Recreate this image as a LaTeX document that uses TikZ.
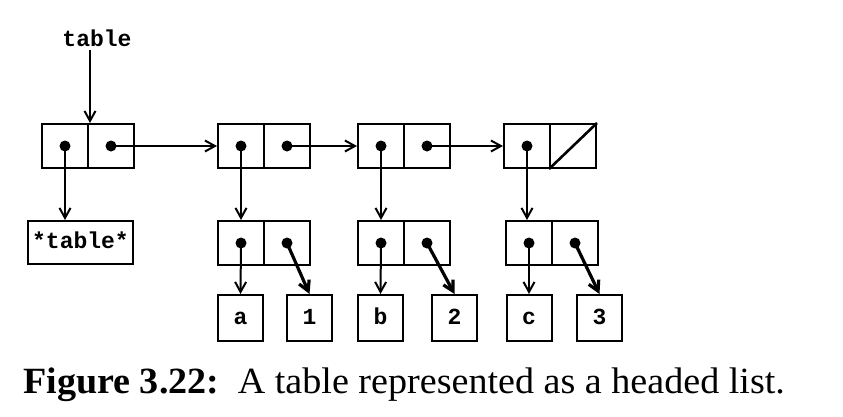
\documentclass[tikz,border=0pt]{standalone}
\usepackage{fontspec}
\setmainfont[FakeStretch=1.03]{Liberation Serif}
\newfontfamily\codefont{Liberation Mono}
\usetikzlibrary{arrows.meta}

\begin{document}
\begin{tikzpicture}[x=1pt,y=-1pt,
    code/.style={font=\codefont\bfseries\fontsize{23}{23}\selectfont},
    cell/.style={draw,line width=2pt,minimum width=46pt,minimum height=44pt,inner sep=0pt},
    leaf/.style={draw,line width=2pt,minimum width=45pt,minimum height=46pt,inner sep=0pt,
      text height=12pt,text depth=0pt,code},
    ptr/.style={line width=2pt,-{Straight Barb[length=10pt,width=11pt]}},
    bold ptr/.style={ptr,line width=3.2pt}]
  \useasboundingbox (0,0) rectangle (843,416);

  % Header cell and its name
  \node[code] (name) at (97,38) {table};
  \node[cell] (h0a) at (65,146) {};
  \node[cell] (h0b) at (111,146) {};
  \node[leaf,minimum width=105pt,minimum height=43pt] (tab) at (80.5,242.5) {*table*};

  % Spine of the list
  \node[cell] (h1a) at (241,146) {};
  \node[cell] (h1b) at (287,146) {};
  \node[cell] (h2a) at (381,146) {};
  \node[cell] (h2b) at (427,146) {};
  \node[cell] (h3a) at (527,146) {};
  \node[cell] (h3b) at (573,146) {};

  % Entries (key . value)
  \node[cell] (e1a) at (241,243) {};
  \node[cell] (e1b) at (287,243) {};
  \node[cell] (e2a) at (381,243) {};
  \node[cell] (e2b) at (427,243) {};
  \node[cell] (e3a) at (529,243) {};
  \node[cell] (e3b) at (575,243) {};

  % Keys and values
  \node[leaf] (ka) at (240.5,318) {a};
  \node[leaf] (v1) at (309.5,318) {1};
  \node[leaf] (kb) at (380.5,318) {b};
  \node[leaf] (v2) at (454.5,318) {2};
  \node[leaf] (kc) at (529,318) {c};
  \node[leaf] (v3) at (599.5,318) {3};

  % Pointers
  \draw[ptr] ([xshift=-7pt]name.south) -- ([xshift=-7pt]name.south |- h0a.north);
  \draw[ptr] (h0a.center) -- (h0a.center |- tab.north);
  \draw[ptr] (h0b.center) -- (h1a.west);
  \draw[ptr] (h1b.center) -- (h2a.west);
  \draw[ptr] (h2b.center) -- (h3a.west);
  \draw[ptr] (h1a.center) -- (e1a.north);
  \draw[ptr] (h2a.center) -- (e2a.north);
  \draw[ptr] (h3a.center) -- (h3a.center |- e3a.north);
  \draw[ptr] (e1a.center) -- (ka.north);
  \draw[ptr] (e2a.center) -- (kb.north);
  \draw[ptr] (e3a.center) -- (kc.north);
  \draw[bold ptr] (e1b.center) -- (v1.north);
  \draw[bold ptr] (e2b.center) -- (v2.north);
  \draw[bold ptr] (e3b.center) -- (v3.north);
  \draw[line width=2.6pt] (h3b.south west) -- (h3b.north east);

  % Dots
  \foreach \c in {h0a,h0b,h1a,h1b,h2a,h2b,h3a,e1a,e1b,e2a,e2b,e3a,e3b}
    \fill (\c.center) circle (5.5pt);

  % Caption
  \node[anchor=base west,inner sep=0pt,font=\fontsize{37}{37}\selectfont] (cap) at (23,393)
    {\textbf{Figure 3.22:}\enspace A table represented as a headed list.};
\end{tikzpicture}
\end{document}
